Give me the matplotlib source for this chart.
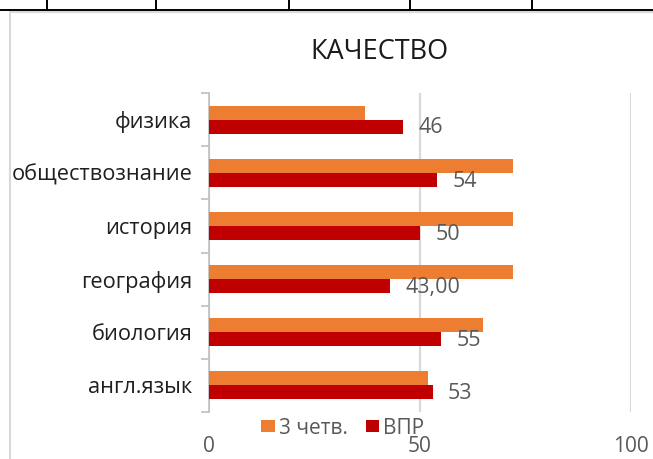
import matplotlib
matplotlib.use("Agg")
import matplotlib.pyplot as plt
from matplotlib.lines import Line2D
from matplotlib.patches import Rectangle
import numpy as np

plt.rcParams['font.family'] = ['Open Sans', 'DejaVu Sans']

# ---- data ----
categories = ["физика", "обществознание", "история", "география", "биология", "англ.язык"]
q3_values = [37, 72, 72, 72, 65, 52]          # "3 четв."
vpr_values = [46, 54, 50, 43, 55, 53]         # "ВПР"
vpr_labels = ["46", "54", "50", "43,00", "55", "53"]
series_names = ["3 четв.", "ВПР"]
x_ticks = [0, 50, 100]
title = "КАЧЕСТВО"

# ---- style ----
ORANGE = "#ED7D31"
RED = "#C00000"
GRAY_TXT = "#595959"
GRID = "#D9D9D9"

W, H = 653, 459
fig = plt.figure(figsize=(W / 100, H / 100), dpi=100)

def fx(px):
    return px / W

def fy(py):
    return 1 - py / H

# spreadsheet lines at top
fig.add_artist(Line2D([0, 1], [fy(9.5), fy(9.5)], color="black", lw=1.4))
for xp in [47, 156, 289, 410, 532]:
    fig.add_artist(Line2D([fx(xp), fx(xp)], [fy(0), fy(9.5)], color="black", lw=1.4))
# chart area border
fig.add_artist(Rectangle((fx(10), -0.1), 1.2, fy(12) + 0.1, transform=fig.transFigure,
                         fill=False, edgecolor=GRID, lw=1.5))

# axes placement
x0, x1 = 209, 631
y0, y1 = 93, 412
ax = fig.add_axes([fx(x0), fy(y1), (x1 - x0) / W, (y1 - y0) / H])

n = len(categories)
pos = np.arange(n)
h = 0.263
ax.barh(pos - h / 2, q3_values, height=h, color=ORANGE, label=series_names[0], zorder=3)
ax.barh(pos + h / 2, vpr_values, height=h, color=RED, label=series_names[1], zorder=3)

ax.set_xlim(0, 100)
ax.set_ylim(n - 0.5, -0.5)

for v, p, lab in zip(vpr_values, pos, vpr_labels):
    ax.annotate(lab, xy=(v, p + h / 2), xytext=(11, -1), textcoords="offset points",
                ha="left", va="center", color=GRAY_TXT, fontsize=15.5)

# gridlines
ax.set_xticks(x_ticks)
ax.xaxis.grid(True, color=GRID, lw=1.6, zorder=0)
ax.set_xticklabels([str(t) for t in x_ticks], color=GRAY_TXT, fontsize=15)
ax.tick_params(axis="x", length=0, pad=17.5)

ax.set_yticks(pos)
ax.set_yticklabels(categories, fontsize=15.7, color="#1f1f1f")
ax.set_yticks(np.arange(n + 1) - 0.5, minor=True)
ax.tick_params(axis="y", which="major", length=0, pad=12)
ax.tick_params(axis="y", which="minor", length=6, width=1.2, color="#BFBFBF")

for s in ["top", "right", "bottom"]:
    ax.spines[s].set_visible(False)
ax.spines["left"].set_color("#BFBFBF")
ax.spines["left"].set_linewidth(1.2)
ax.set_facecolor("none")

fig.text(fx(379), fy(52), title, ha="center", va="center", fontsize=19.5, color="#1a1a1a")

leg = fig.legend(loc="center", bbox_to_anchor=(fx(343), fy(428)), ncol=2, frameon=False,
                 fontsize=15, handlelength=0.65, handleheight=0.56, handletextpad=0.2,
                 columnspacing=0.85, borderpad=0, borderaxespad=0)
for t in leg.get_texts():
    t.set_color(GRAY_TXT)

fig.savefig("out.png", dpi=100)
